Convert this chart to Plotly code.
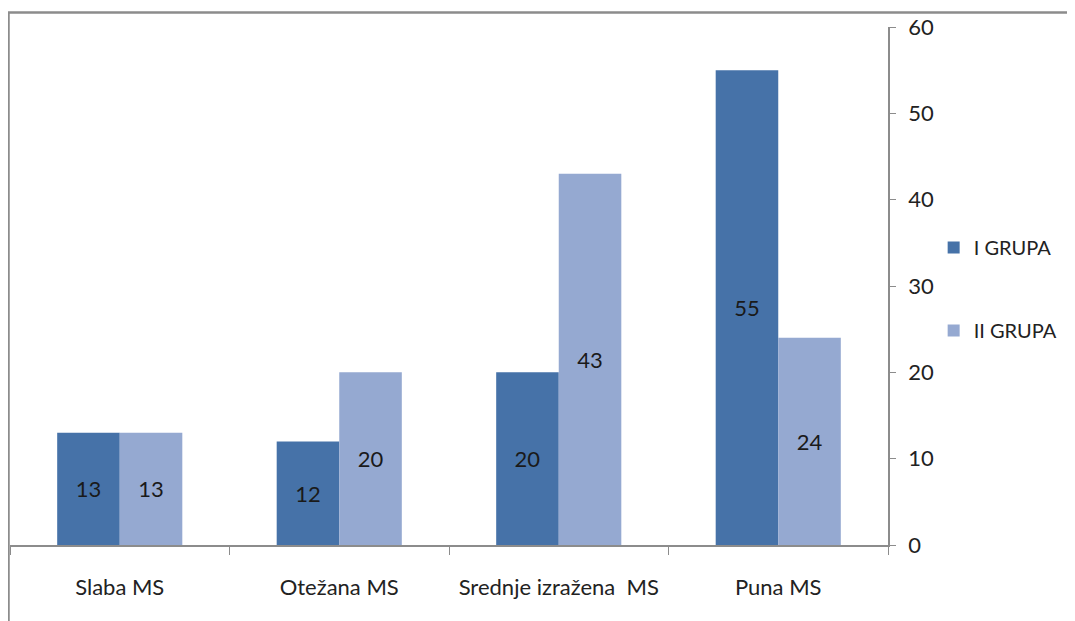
import plotly.graph_objects as go

categories = ["Slaba MS", "Otežana MS", "Srednje izražena  MS", "Puna MS"]
grupa_1 = [13, 12, 20, 55]
grupa_2 = [13, 20, 43, 24]
series_names = ["I GRUPA", "II GRUPA"]

DARK_BLUE = "#4672A8"
LIGHT_BLUE = "#95A9D1"
AXIS_GRAY = "#8C8C8C"
FONT = "Lato, 'Open Sans', sans-serif"

fig = go.Figure()

for name, values, color in zip(series_names, [grupa_1, grupa_2], [DARK_BLUE, LIGHT_BLUE]):
    fig.add_trace(
        go.Bar(
            name=name,
            x=categories,
            y=values,
            marker=dict(color=color, line=dict(width=0)),
            text=values,
            textposition="inside",
            insidetextanchor="middle",
            textangle=0,
            textfont=dict(color="#1a1a1a", size=22, family=FONT),
            legendgroup=name,
        )
    )

# chart frame (only top/left edges fall inside the picture)
fig.add_shape(
    type="rect",
    xref="paper", yref="paper",
    x0=-0.0017, x1=1.3, y0=-0.3, y1=1.028,
    line=dict(color=AXIS_GRAY, width=2.5),
    layer="below",
)

fig.update_layout(
    barmode="group",
    bargap=0.43,
    bargroupgap=0,
    width=1075,
    height=621,
    margin=dict(l=2, r=195, t=19, b=84),
    paper_bgcolor="white",
    plot_bgcolor="white",
    font=dict(family=FONT, size=22, color="#222"),
    xaxis=dict(
        showline=True,
        linecolor=AXIS_GRAY,
        linewidth=1.5,
        ticks="outside",
        tickson="boundaries",
        ticklen=8,
        tickcolor=AXIS_GRAY,
        ticklabelstandoff=22,
        tickfont=dict(size=22),
        showgrid=False,
    ),
    yaxis=dict(
        side="right",
        range=[0, 60],
        dtick=10,
        showline=True,
        linecolor=AXIS_GRAY,
        linewidth=1.5,
        ticks="outside",
        ticklen=6,
        tickcolor=AXIS_GRAY,
        ticklabelstandoff=8,
        showgrid=False,
        zeroline=False,
        tickfont=dict(size=22),
    ),
    legend=dict(
        x=1.052,
        xanchor="left",
        y=0.494,
        yanchor="middle",
        traceorder="grouped",
        tracegroupgap=54,
        font=dict(size=20),
        itemwidth=30,
    ),
    uniformtext=dict(minsize=10, mode="show"),
)

fig.write_html("out.html")
